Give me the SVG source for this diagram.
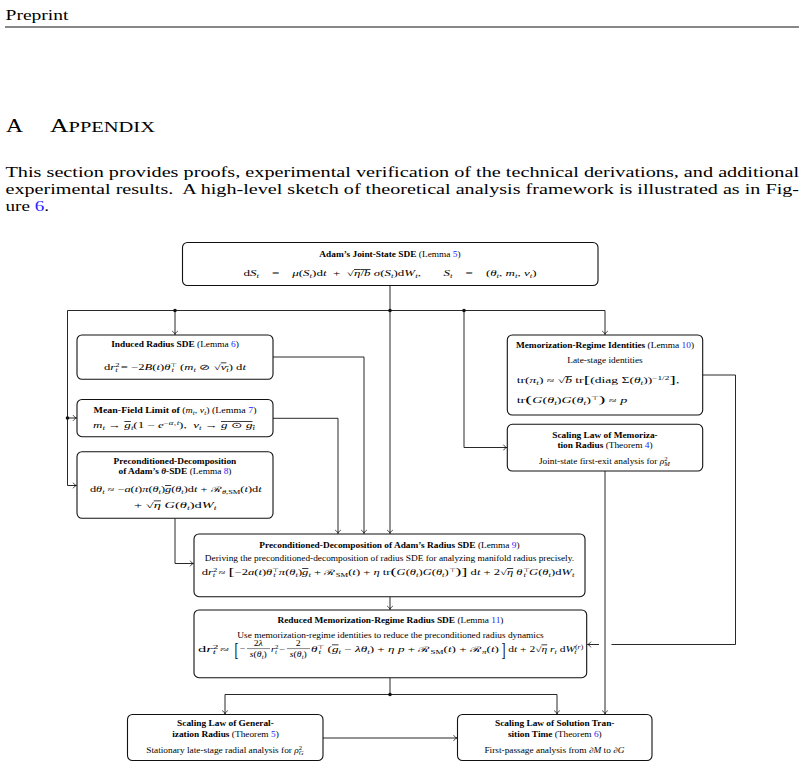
<svg xmlns="http://www.w3.org/2000/svg" width="804" height="768" viewBox="0 0 804 768">
<style>
text{font-family:"Liberation Serif","Times New Roman",Times,serif;fill:#000}
.s{transform-box:fill-box;transform-origin:center;transform:scaleX(1.28)}
.f{font-size:7.3px}
.m{font-size:7.6px}
.body{font-size:15.5px}
.hd{font-size:18.5px}
.sc{font-size:14.8px}
.b{font-weight:bold}
.ln{fill:#2323ff}
.i{font-style:italic}
.sb{font-size:5.2px;font-style:italic;baseline-shift:-1.7px}
.sbr{font-size:5.2px;baseline-shift:-1.7px}
.sp{font-size:5.2px;baseline-shift:3px}
.ov{text-decoration:overline}
.big{font-size:11px}
.box{fill:#fff;stroke:#111;stroke-width:1.1}
.c{fill:none;stroke:#111;stroke-width:0.9}
.a{marker-end:url(#arr)}
.dot{fill:#111}
</style>
<defs>
<marker id="arr" markerUnits="userSpaceOnUse" markerWidth="8" markerHeight="8" viewBox="-5 -4 6 8" refX="0" refY="0" orient="auto" overflow="visible">
<path d="M-3.4,-2.8 C-2.4,-1.1 -1,-0.3 0,0 C-1,0.3 -2.4,1.1 -3.4,2.8" fill="none" stroke="#111" stroke-width="0.8"/>
</marker>
</defs>

<g id="page">
<text x="5.5" y="20" class="body" textLength="63" lengthAdjust="spacingAndGlyphs">Preprint</text>
<line x1="5" y1="27" x2="799" y2="27" stroke="#111" stroke-width="1"/>
<text x="6" y="132.3" class="hd" textLength="17" lengthAdjust="spacingAndGlyphs">A</text>
<text x="50" y="132.3" class="hd" textLength="105" lengthAdjust="spacingAndGlyphs">A<tspan class="sc">PPENDIX</tspan></text>
<text x="5.5" y="176.7" class="body" textLength="793.5" lengthAdjust="spacingAndGlyphs">This section provides proofs, experimental verification of the technical derivations, and additional</text>
<text x="5.5" y="194.3" class="body" textLength="793.5" lengthAdjust="spacingAndGlyphs">experimental results.&#160; A high-level sketch of theoretical analysis framework is illustrated as in Fig-</text>
<text x="5.5" y="211" class="body" textLength="43.5" lengthAdjust="spacingAndGlyphs">ure <tspan class="ln">6</tspan>.</text>
</g>

<g id="connectors">
<path class="c" d="M390,285.5 V310.5"/>
<path class="c a" d="M390,310.5 H67.5 V485.5 H76.5"/>
<path class="c a" d="M67.5,418 H76.5"/>
<path class="c a" d="M175,310.5 V334.5"/>
<path class="c a" d="M390,310.5 V533.5"/>
<path class="c a" d="M390,310.5 H605 V334.5"/>
<path class="c a" d="M464,310.5 V447.5 H506.8"/>
<path class="c a" d="M273,357 H364 V533.5"/>
<path class="c a" d="M273,418.3 H338 V533.5"/>
<path class="c a" d="M175,518.3 V563.5 H193.5"/>
<path class="c" d="M702.7,375 H735.5 V644.5 H611.5"/>
<path class="c a" d="M599,644.5 H587.5"/>
<path class="c a" d="M605,471 V714"/>
<path class="c a" d="M390,597 V609.5"/>
<path class="c" d="M390,678 V694.5"/>
<path class="c a" d="M390,694.5 H225 V714"/>
<path class="c a" d="M390,694.5 H557 V714"/>
<path class="c a" d="M323,738 H457"/>
<circle class="dot" cx="175" cy="310.5" r="1.8"/>
<circle class="dot" cx="390" cy="310.5" r="1.8"/>
<circle class="dot" cx="464" cy="310.5" r="1.8"/>
<circle class="dot" cx="67.5" cy="418" r="1.8"/>
<circle class="dot" cx="390" cy="694.5" r="1.8"/>
</g>

<g id="n-joint">
<rect class="box" x="182.5" y="242.5" width="415.5" height="43" rx="5"/>
<text x="390" y="257" class="f s" text-anchor="middle"><tspan class="b">Adam’s Joint-State SDE</tspan> (Lemma <tspan class="ln">5</tspan>)</text>
<text x="390" y="276" class="m" text-anchor="middle" textLength="293" lengthAdjust="spacingAndGlyphs">d<tspan class="i">S</tspan><tspan class="sb">t</tspan>&#160;&#160;&#160;&#160;=&#160;&#160;&#160;&#160;<tspan class="i">μ</tspan>(<tspan class="i">S</tspan><tspan class="sb">t</tspan>)d<tspan class="i">t</tspan>&#160;&#160;+&#160;&#160;√<tspan class="ov"><tspan class="i">η</tspan>/<tspan class="i">b</tspan></tspan>&#160;<tspan class="i">σ</tspan>(<tspan class="i">S</tspan><tspan class="sb">t</tspan>)d<tspan class="i">W</tspan><tspan class="sb">t</tspan>,&#160;&#160;&#160;&#160;&#160;&#160;&#160;<tspan class="i">S</tspan><tspan class="sb">t</tspan>&#160;&#160;&#160;&#160;=&#160;&#160;&#160;&#160;(<tspan class="i">θ</tspan><tspan class="sb">t</tspan>,&#160;<tspan class="i">m</tspan><tspan class="sb">t</tspan>,&#160;<tspan class="i">v</tspan><tspan class="sb">t</tspan>)</text>
</g>

<g id="n-induced">
<rect class="box" x="77" y="335" width="196" height="44.3" rx="5"/>
<text x="175" y="347.5" class="f s" text-anchor="middle"><tspan class="b">Induced Radius SDE</tspan> (Lemma <tspan class="ln">6</tspan>)</text>
<text x="175" y="369.5" class="m" text-anchor="middle" textLength="142" lengthAdjust="spacingAndGlyphs">d<tspan class="i">r</tspan><tspan class="sp">2</tspan><tspan class="sb" dx="-2.6">t</tspan>&#160;=&#160;−2<tspan class="i">B</tspan>(<tspan class="i">t</tspan>)<tspan class="i">θ</tspan><tspan class="sp">⊤</tspan><tspan class="sb" dx="-3.4">t</tspan>&#160;&#160;(<tspan class="i">m</tspan><tspan class="sb">t</tspan>&#160;⊘&#160;√<tspan class="ov"><tspan class="i">v</tspan><tspan class="sb">t</tspan></tspan>)&#160;d<tspan class="i">t</tspan></text>
</g>

<g id="n-meanfield">
<rect class="box" x="77" y="399.5" width="196" height="37.2" rx="5"/>
<text x="175" y="412.5" class="f" text-anchor="middle" textLength="163" lengthAdjust="spacingAndGlyphs"><tspan class="b">Mean-Field Limit of</tspan>&#160;(<tspan class="i">m</tspan><tspan class="sb">t</tspan>,&#160;<tspan class="i">v</tspan><tspan class="sb">t</tspan>)&#160;(Lemma&#160;<tspan class="ln">7</tspan>)</text>
<text x="174" y="428" class="m" text-anchor="middle" textLength="162" lengthAdjust="spacingAndGlyphs"><tspan class="i">m</tspan><tspan class="sb">t</tspan>&#160;→&#160;<tspan class="i ov">g</tspan><tspan class="sb">t</tspan>(1&#160;−&#160;<tspan class="i">e</tspan><tspan class="sp">−<tspan class="i">α</tspan>₁<tspan class="i">t</tspan></tspan>),&#160;&#160;<tspan class="i">v</tspan><tspan class="sb">t</tspan>&#160;→&#160;<tspan class="ov"><tspan class="i">g</tspan>&#160;⊙&#160;<tspan class="i">g</tspan><tspan class="sb">t</tspan></tspan></text>
</g>

<g id="n-theta">
<rect class="box" x="77" y="451.7" width="196" height="66.6" rx="5"/>
<text x="175" y="464.5" class="f s b" text-anchor="middle">Preconditioned-Decomposition</text>
<text x="175" y="474.5" class="f s" text-anchor="middle"><tspan class="b">of Adam’s <tspan class="i">θ</tspan>-SDE</tspan> (Lemma <tspan class="ln">8</tspan>)</text>
<text x="175.8" y="492" class="m" text-anchor="middle" textLength="171.7" lengthAdjust="spacingAndGlyphs">d<tspan class="i">θ</tspan><tspan class="sb">t</tspan>&#160;≈&#160;−<tspan class="i">a</tspan>(<tspan class="i">t</tspan>)<tspan class="i">π</tspan>(<tspan class="i">θ</tspan><tspan class="sb">t</tspan>)<tspan class="i ov">g</tspan>(<tspan class="i">θ</tspan><tspan class="sb">t</tspan>)d<tspan class="i">t</tspan>&#160;+&#160;ℛ<tspan class="sbr"><tspan class="i">θ</tspan>,SM</tspan>(<tspan class="i">t</tspan>)d<tspan class="i">t</tspan></text>
<text x="175.3" y="507.5" class="m" text-anchor="middle" textLength="82.7" lengthAdjust="spacingAndGlyphs">+&#160;√<tspan class="ov i">η</tspan>&#160;<tspan class="i">G</tspan>(<tspan class="i">θ</tspan><tspan class="sb">t</tspan>)d<tspan class="i">W</tspan><tspan class="sb">t</tspan></text>
</g>

<g id="n-memreg">
<rect class="box" x="507.3" y="335" width="195.4" height="80" rx="5"/>
<text x="605" y="348.5" class="f s" text-anchor="middle"><tspan class="b">Memorization-Regime Identities</tspan> (Lemma <tspan class="ln">10</tspan>)</text>
<text x="605" y="363.5" class="f s" text-anchor="middle">Late-stage identities</text>
<text x="516.7" y="383" class="m" textLength="162.6" lengthAdjust="spacingAndGlyphs">tr(<tspan class="i">π</tspan><tspan class="sb">t</tspan>)&#160;≈&#160;√<tspan class="ov i">b</tspan>&#160;tr<tspan class="big">[</tspan>(diag&#160;Σ(<tspan class="i">θ</tspan><tspan class="sb">t</tspan>))<tspan class="sp">−1/2</tspan><tspan class="big">]</tspan>,</text>
<text x="516.7" y="403" class="m" textLength="110.6" lengthAdjust="spacingAndGlyphs">tr<tspan class="big">(</tspan><tspan class="i">G</tspan>(<tspan class="i">θ</tspan><tspan class="sb">t</tspan>)<tspan class="i">G</tspan>(<tspan class="i">θ</tspan><tspan class="sb">t</tspan>)<tspan class="sp">⊤</tspan><tspan class="big">)</tspan>&#160;≈&#160;<tspan class="i">p</tspan></text>
</g>

<g id="n-scalemem">
<rect class="box" x="507.3" y="424.3" width="195.4" height="46.7" rx="5"/>
<text x="605" y="437.8" class="f s b" text-anchor="middle">Scaling Law of Memoriza-</text>
<text x="605" y="447.8" class="f s" text-anchor="middle"><tspan class="b">tion Radius</tspan> (Theorem <tspan class="ln">4</tspan>)</text>
<text x="604.5" y="464" class="f s" text-anchor="middle">Joint-state first-exit analysis for <tspan class="i">ρ</tspan><tspan class="sp">2</tspan><tspan class="sb" dx="-2.6">M</tspan></text>
</g>

<g id="n-lemma9">
<rect class="box" x="194" y="534" width="391" height="62.7" rx="5"/>
<text x="389.5" y="547.8" class="f s" text-anchor="middle"><tspan class="b">Preconditioned-Decomposition of Adam’s Radius SDE</tspan> (Lemma <tspan class="ln">9</tspan>)</text>
<text x="389.5" y="561" class="f s" text-anchor="middle">Deriving the preconditioned-decomposition of radius SDE for analyzing manifold radius precisely.</text>
<text x="388" y="575" class="m" text-anchor="middle" textLength="372.6" lengthAdjust="spacingAndGlyphs">d<tspan class="i">r</tspan><tspan class="sp">2</tspan><tspan class="sb" dx="-2.6">t</tspan>&#160;≈&#160;<tspan class="big">[</tspan>−2<tspan class="i">a</tspan>(<tspan class="i">t</tspan>)<tspan class="i">θ</tspan><tspan class="sp">⊤</tspan><tspan class="sb" dx="-3.4">t</tspan>&#160;<tspan class="i">π</tspan>(<tspan class="i">θ</tspan><tspan class="sb">t</tspan>)<tspan class="i ov">g</tspan><tspan class="sb">t</tspan>&#160;+&#160;ℛ<tspan class="sbr">SM</tspan>(<tspan class="i">t</tspan>)&#160;+&#160;<tspan class="i">η</tspan>&#160;tr<tspan class="big">(</tspan><tspan class="i">G</tspan>(<tspan class="i">θ</tspan><tspan class="sb">t</tspan>)<tspan class="i">G</tspan>(<tspan class="i">θ</tspan><tspan class="sb">t</tspan>)<tspan class="sp">⊤</tspan><tspan class="big">)</tspan><tspan class="big">]</tspan>&#160;d<tspan class="i">t</tspan>&#160;+&#160;2√<tspan class="ov i">η</tspan>&#160;<tspan class="i">θ</tspan><tspan class="sp">⊤</tspan><tspan class="sb" dx="-3.4">t</tspan>&#160;<tspan class="i">G</tspan>(<tspan class="i">θ</tspan><tspan class="sb">t</tspan>)d<tspan class="i">W</tspan><tspan class="sb">t</tspan></text>
</g>

<g id="n-lemma11">
<rect class="box" x="194" y="610" width="392.7" height="67.7" rx="5"/>
<text x="390.5" y="622.8" class="f s" text-anchor="middle"><tspan class="b">Reduced Memorization-Regime Radius SDE</tspan> (Lemma <tspan class="ln">11</tspan>)</text>
<text x="390.5" y="637.8" class="f s" text-anchor="middle">Use memorization-regime identities to reduce the preconditioned radius dynamics</text>
<text x="198" y="651.5" class="m" textLength="31" lengthAdjust="spacingAndGlyphs">d<tspan class="i">r</tspan><tspan class="sp">2</tspan><tspan class="sb" dx="-2.6">t</tspan>&#160;≈</text>
<text x="234.5" y="656" font-size="19px" textLength="4" lengthAdjust="spacingAndGlyphs">[</text>
<text x="242.5" y="651.5" class="m s" text-anchor="middle">−</text>
<text x="258.3" y="646" class="m s" text-anchor="middle">2<tspan class="i">λ</tspan></text>
<line x1="247" y1="648.6" x2="270" y2="648.6" stroke="#111" stroke-width="0.5"/>
<text x="258.3" y="657.5" class="m s" text-anchor="middle"><tspan class="i">s</tspan>(<tspan class="i">θ</tspan><tspan class="sb">t</tspan>)</text>
<text x="271" y="651.5" class="m" textLength="14" lengthAdjust="spacingAndGlyphs"><tspan class="i">r</tspan><tspan class="sp">2</tspan><tspan class="sb" dx="-2.6">t</tspan>&#160;−</text>
<text x="298.3" y="646" class="m s" text-anchor="middle">2</text>
<line x1="287" y1="648.6" x2="310" y2="648.6" stroke="#111" stroke-width="0.5"/>
<text x="298.3" y="657.5" class="m s" text-anchor="middle"><tspan class="i">s</tspan>(<tspan class="i">θ</tspan><tspan class="sb">t</tspan>)</text>
<text x="311" y="651.5" class="m" textLength="188" lengthAdjust="spacingAndGlyphs"><tspan class="i">θ</tspan><tspan class="sp">⊤</tspan><tspan class="sb" dx="-3.4">t</tspan>&#160;&#160;(<tspan class="i ov">g</tspan><tspan class="sb">t</tspan>&#160;−&#160;<tspan class="i">λθ</tspan><tspan class="sb">t</tspan>)&#160;+&#160;<tspan class="i">η</tspan>&#160;<tspan class="i">p</tspan>&#160;+&#160;ℛ<tspan class="sbr">SM</tspan>(<tspan class="i">t</tspan>)&#160;+&#160;ℛ<tspan class="sb">π</tspan>(<tspan class="i">t</tspan>)</text>
<text x="501.5" y="656" font-size="19px" textLength="4" lengthAdjust="spacingAndGlyphs">]</text>
<text x="508.3" y="651.5" class="m" textLength="75" lengthAdjust="spacingAndGlyphs">d<tspan class="i">t</tspan>&#160;+&#160;2√<tspan class="ov i">η</tspan>&#160;<tspan class="i">r</tspan><tspan class="sb">t</tspan>&#160;d<tspan class="i">W</tspan><tspan class="sp">(<tspan class="i">r</tspan>)</tspan><tspan class="sb" dx="-6">t</tspan></text>
</g>

<g id="n-genrad">
<rect class="box" x="127.5" y="714.5" width="195.5" height="46" rx="5"/>
<text x="225.5" y="726.5" class="f s b" text-anchor="middle">Scaling Law of General-</text>
<text x="225.5" y="737" class="f s" text-anchor="middle"><tspan class="b">ization Radius</tspan> (Theorem <tspan class="ln">5</tspan>)</text>
<text x="225" y="753" class="f s" text-anchor="middle">Stationary late-stage radial analysis for <tspan class="i">ρ</tspan><tspan class="sp">2</tspan><tspan class="sb" dx="-2.6">G</tspan></text>
</g>

<g id="n-soltime">
<rect class="box" x="457.5" y="714.5" width="194.5" height="46" rx="5"/>
<text x="554.8" y="726.5" class="f s b" text-anchor="middle">Scaling Law of Solution Tran-</text>
<text x="554.8" y="737" class="f s" text-anchor="middle"><tspan class="b">sition Time</tspan> (Theorem <tspan class="ln">6</tspan>)</text>
<text x="554.5" y="753" class="f s" text-anchor="middle">First-passage analysis from <tspan class="i">∂M</tspan> to <tspan class="i">∂G</tspan></text>
</g>
</svg>
